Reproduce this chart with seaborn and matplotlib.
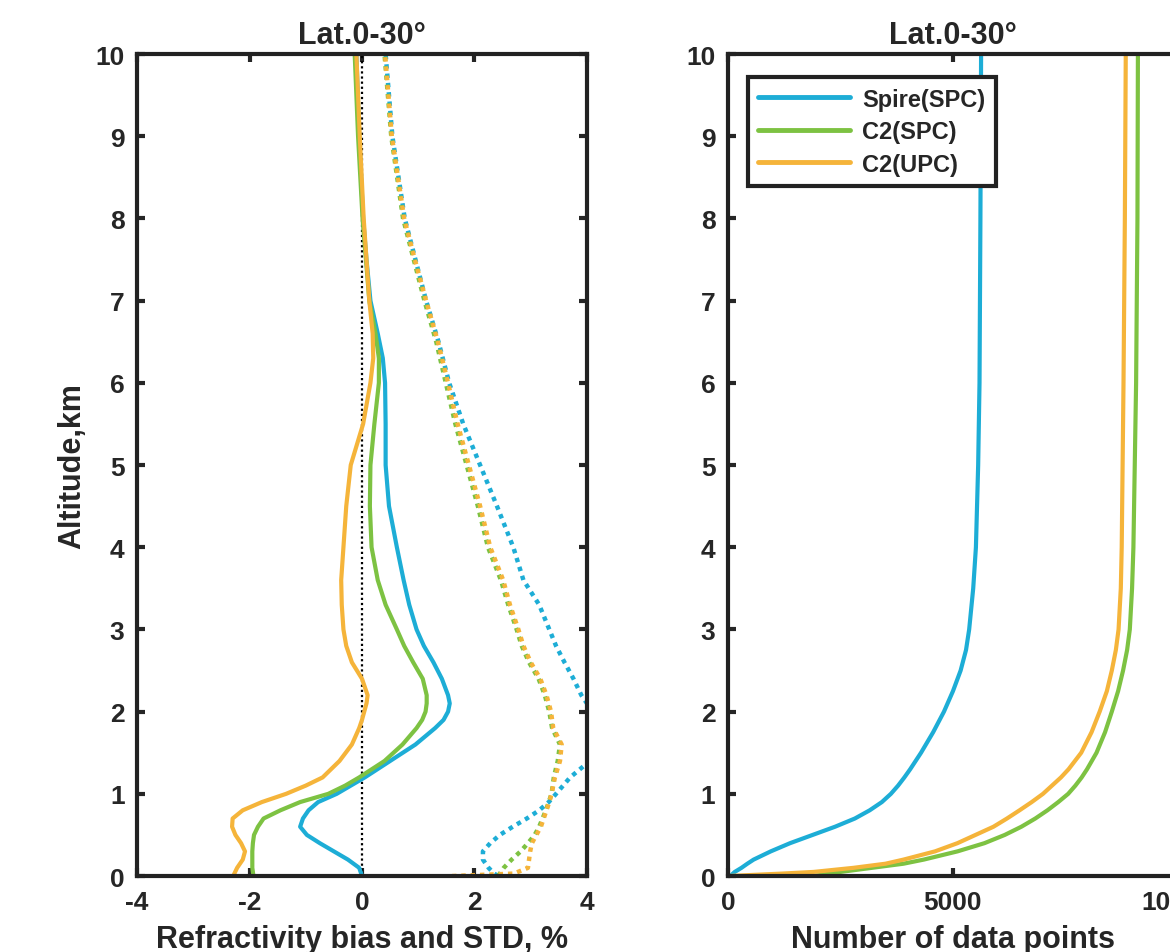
import numpy as np
import pandas as pd
import matplotlib
matplotlib.use("Agg")
import matplotlib.pyplot as plt
import seaborn as sns

# ---- bias (solid) ----
alt_bias = [0, 0.1, 0.2, 0.3, 0.4, 0.5, 0.6, 0.7, 0.8, 0.9, 1.0, 1.1, 1.2, 1.4, 1.6, 1.8,
            1.9, 2.0, 2.1, 2.2, 2.4, 2.6, 2.8, 3.0, 3.3, 3.6, 4.0, 4.5, 5.0, 5.5, 6.0, 6.3,
            6.6, 7.0, 7.5, 8.0, 9.0, 10.0]
spire_bias = [0.0, -0.05, -0.25, -0.5, -0.75, -0.98, -1.1, -1.05, -0.95, -0.78, -0.45, -0.2,
              0.05, 0.5, 0.95, 1.3, 1.45, 1.53, 1.56, 1.53, 1.42, 1.27, 1.1, 0.97, 0.84, 0.74,
              0.62, 0.48, 0.42, 0.42, 0.41, 0.37, 0.28, 0.15, 0.08, 0.02, -0.05, -0.1]
c2spc_bias = [-1.93, -1.95, -1.95, -1.95, -1.94, -1.92, -1.85, -1.75, -1.45, -1.1, -0.6, -0.3,
              -0.05, 0.4, 0.72, 0.97, 1.07, 1.13, 1.15, 1.15, 1.08, 0.91, 0.75, 0.62, 0.42,
              0.28, 0.17, 0.14, 0.15, 0.22, 0.3, 0.3, 0.24, 0.13, 0.07, 0.01, -0.07, -0.13]
c2upc_bias = [-2.29, -2.22, -2.12, -2.08, -2.15, -2.25, -2.31, -2.3, -2.12, -1.78, -1.35, -1.0,
              -0.7, -0.4, -0.18, -0.05, 0.0, 0.04, 0.08, 0.1, 0.0, -0.18, -0.28, -0.33, -0.36,
              -0.37, -0.33, -0.28, -0.2, 0.02, 0.15, 0.2, 0.19, 0.13, 0.08, 0.03, -0.04, -0.1]

# ---- STD (dotted) ----
alt_std = [0, 0.03, 0.1, 0.2, 0.3, 0.4, 0.5, 0.6, 0.7, 0.8, 0.9, 1.0, 1.2, 1.4, 1.6, 1.8, 2.0,
           2.2, 2.4, 2.6, 2.8, 3.0, 3.3, 3.6, 4.0, 4.5, 5.0, 5.5, 6.0, 6.5, 7.0, 7.5, 8.0,
           9.0, 10.0]
spire_std = [2.42, 2.35, 2.25, 2.15, 2.15, 2.28, 2.45, 2.68, 2.93, 3.15, 3.32, 3.45, 3.7, 4.05,
             4.2, 4.2, 4.1, 3.9, 3.76, 3.6, 3.45, 3.33, 3.15, 2.87, 2.69, 2.4, 2.1, 1.8, 1.55,
             1.36, 1.14, 0.95, 0.76, 0.54, 0.42]
c2spc_std = [2.42, 2.45, 2.52, 2.66, 2.82, 2.95, 3.07, 3.15, 3.21, 3.27, 3.32, 3.37, 3.41, 3.48,
             3.52, 3.38, 3.33, 3.25, 3.14, 2.97, 2.84, 2.75, 2.6, 2.47, 2.24, 2.06, 1.86,
             1.66, 1.49, 1.32, 1.11, 0.92, 0.73, 0.52, 0.40]
c2upc_std = [1.6, 2.7, 2.95, 2.97, 2.99, 3.02, 3.1, 3.18, 3.23, 3.28, 3.33, 3.37, 3.43, 3.52,
             3.55, 3.4, 3.36, 3.28, 3.17, 3.0, 2.87, 2.78, 2.63, 2.51, 2.28, 2.1, 1.9, 1.7,
             1.53, 1.35, 1.14, 0.94, 0.75, 0.53, 0.41]

# ---- number of data points ----
alt_num = [0, 0.03, 0.05, 0.1, 0.15, 0.2, 0.3, 0.4, 0.5, 0.6, 0.7, 0.8, 0.9, 1.0, 1.1, 1.2,
           1.3, 1.5, 1.75, 2.0, 2.25, 2.5, 2.75, 3.0, 3.5, 4.0, 5.0, 6.0, 8.0, 10.0]
spire_num = [50, 110, 150, 300, 430, 570, 950, 1380, 1880, 2380, 2820, 3150, 3420, 3620, 3780,
             3920, 4050, 4290, 4560, 4800, 5000, 5170, 5290, 5360, 5450, 5510, 5560, 5590,
             5610, 5625]
c2spc_num = [1900, 2250, 2500, 3200, 3900, 4350, 5100, 5700, 6150, 6520, 6830, 7100, 7340, 7560,
             7720, 7860, 7980, 8190, 8380, 8530, 8670, 8780, 8870, 8930, 8980, 9010, 9040,
             9070, 9100, 9110]
c2upc_num = [0, 1200, 1900, 2790, 3500, 3900, 4600, 5100, 5500, 5900, 6200, 6480, 6750, 7000,
             7200, 7400, 7570, 7850, 8080, 8260, 8420, 8530, 8620, 8680, 8730, 8750, 8770,
             8790, 8820, 8840]

names = ["Spire(SPC)", "C2(SPC)", "C2(UPC)"]
colors = ["#1DADD6", "#7DC242", "#F5B43A"]

sns.set_style("ticks")
plt.rcParams["font.family"] = ["Liberation Sans", "DejaVu Sans"]
plt.rcParams["font.weight"] = "bold"
plt.rcParams["axes.unicode_minus"] = False

fig = plt.figure(figsize=(11.7, 9.53), dpi=100)
ax1 = fig.add_axes([0.1171, 0.0797, 0.3846, 0.8625])
ax2 = fig.add_axes([0.6222, 0.0797, 0.3846, 0.8625])

dots = (0, (1, 1.1))

ax1.plot([0, 0], [0, 10], color="black", lw=1.6, linestyle=(0, (1, 1.3)), zorder=1)
for bias, std, c in zip([spire_bias, c2spc_bias, c2upc_bias],
                        [spire_std, c2spc_std, c2upc_std], colors):
    sns.lineplot(x=bias, y=alt_bias, ax=ax1, color=c, lw=3, sort=False, estimator=None)
    sns.lineplot(x=std, y=alt_std, ax=ax1, color=c, lw=3.2, sort=False, estimator=None,
                 linestyle=dots)

for num, c, n in zip([spire_num, c2spc_num, c2upc_num], colors, names):
    sns.lineplot(x=num, y=alt_num, ax=ax2, color=c, lw=3, sort=False, estimator=None, label=n)

ax1.set_xlim(-4, 4)
ax1.set_xticks([-4, -2, 0, 2, 4])
ax2.set_xlim(0, 10000)
ax2.set_xticks([0, 5000, 10000])

for ax in (ax1, ax2):
    ax.set_ylim(0, 10)
    ax.set_yticks(range(0, 11))
    ax.tick_params(direction="in", top=True, right=True, length=6, width=3, labelsize=19)
    ax.tick_params(axis="x", pad=10)
    ax.tick_params(axis="y", pad=9)
    for lab in ax.get_xticklabels() + ax.get_yticklabels():
        lab.set_fontweight("bold")
    for s in ax.spines.values():
        s.set_linewidth(3)
        s.set_color("#222222")
    ax.set_title("Lat.0-30°", fontsize=22, fontweight="bold", pad=8)

ax1.set_ylabel("Altitude,km", fontsize=22, fontweight="bold", labelpad=6)
ax1.set_xlabel("Refractivity bias and STD, %", fontsize=22, fontweight="bold", labelpad=7)
ax2.set_xlabel("Number of data points", fontsize=22, fontweight="bold", labelpad=7)
ax2.set_ylabel("")

leg = ax2.legend(loc="upper left", bbox_to_anchor=(0.044, 0.972), borderaxespad=0,
                 fancybox=False, framealpha=1, edgecolor="#222222", handlelength=3.9,
                 prop={"size": 17, "weight": "bold"}, labelspacing=0.4,
                 borderpad=0.45, handletextpad=0.5)
leg.get_frame().set_linewidth(3)
for line in leg.get_lines():
    line.set_linewidth(3.5)

fig.savefig("out.png", dpi=100)
